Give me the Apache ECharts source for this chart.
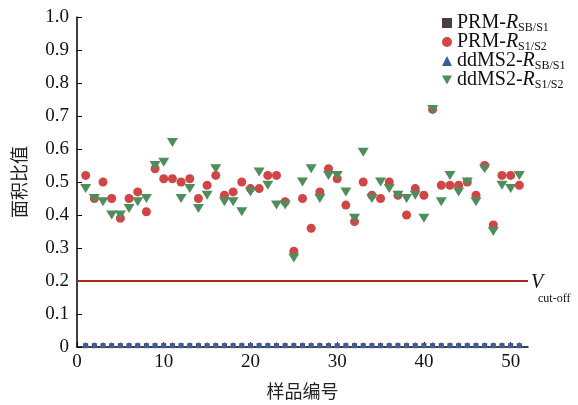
<!DOCTYPE html>
<html>
<head>
<meta charset="utf-8">
<script src="https://cdn.jsdelivr.net/npm/echarts@6/dist/echarts.min.js"></script>
<style>
html,body{margin:0;padding:0;background:#fff;}
#chart{width:578px;height:405px;}
</style>
</head>
<body>
<div id="chart"></div>
<script>
// 样品编号 1..51
let samples = [];
for (let i = 1; i <= 51; i++) samples.push(i);

// PRM-R S1/S2
let prmS1S2 = [0.52,0.45,0.50,0.45,0.39,0.45,0.47,0.41,0.54,0.51,
               0.51,0.50,0.51,0.45,0.49,0.52,0.46,0.47,0.50,0.48,
               0.48,0.52,0.52,0.44,0.29,0.45,0.36,0.47,0.54,0.51,
               0.43,0.38,0.50,0.46,0.45,0.50,0.46,0.40,0.48,0.46,
               0.72,0.49,0.49,0.49,0.50,0.46,0.55,0.37,0.52,0.52,0.49];
// ddMS2-R S1/S2
let ddS1S2  = [0.48,0.45,0.44,0.40,0.40,0.42,0.44,0.45,0.55,0.56,
               0.62,0.45,0.48,0.42,0.46,0.54,0.44,0.44,0.41,0.47,
               0.53,0.49,0.43,0.43,0.27,0.50,0.54,0.45,0.52,0.52,
               0.47,0.39,0.59,0.45,0.50,0.48,0.46,0.45,0.46,0.39,
               0.72,0.44,0.52,0.47,0.50,0.44,0.54,0.35,0.49,0.48,0.52];
// SB/S1 比值接近 0
let prmSBS1 = samples.map(function(){ return 0.004; });
let ddSBS1  = samples.map(function(){ return 0.006; });

let xTicks = [0,10,20,30,40,50];
let cutOff = 0.2;

function pairs(arr){ return arr.map(function(v,i){ return [samples[i], v]; }); }

let font = 'Liberation Serif, Times New Roman, serif';
let rich = {
    n:{fontFamily:font,fontSize:20,color:'#111'},
    i:{fontFamily:font,fontSize:20,fontStyle:'italic',color:'#111'},
    s:{fontFamily:font,fontSize:12,color:'#111',padding:[10,0,0,0]}
};
let downTri = 'path://M0,0 L10,0 L5,9 Z';

let chart = echarts.init(document.getElementById('chart'));
let option = {
    animation:false,
    backgroundColor:'#fff',
    grid:{left:77,right:50,top:17,bottom:55},
    legend:{
        left:437, top:8, orient:'vertical',
        itemWidth:10, itemHeight:10, itemGap:-2,
        textStyle:{rich:rich},
        formatter:function(name){
            let p = name.split('|');
            return '{n|'+p[0]+'}{i|R}{s|'+p[1]+'}';
        },
        data:[{name:'PRM-|SB/S1',icon:'rect'},
              {name:'PRM-|S1/S2',icon:'circle'},
              {name:'ddMS2-|SB/S1',icon:'triangle'},
              {name:'ddMS2-|S1/S2',icon:downTri}]
    },
    xAxis:{
        type:'value', min:0, max:52,
        name:'样品编号', nameLocation:'middle', nameGap:35,
        nameTextStyle:{fontFamily:'Noto Sans CJK SC',fontSize:18,color:'#222'},
        splitLine:{show:false},
        axisLine:{lineStyle:{color:'#000',width:1.5}},
        axisTick:{inside:true,length:5,customValues:xTicks,lineStyle:{color:'#000'}},
        axisLabel:{customValues:xTicks,fontFamily:font,fontSize:19,color:'#111',margin:6}
    },
    yAxis:{
        type:'value', min:0, max:1, interval:0.1,
        name:'面积比值', nameLocation:'middle', nameGap:49,
        nameTextStyle:{fontFamily:'Noto Sans CJK SC',fontSize:18,color:'#222'},
        splitLine:{show:false},
        axisLine:{show:true,lineStyle:{color:'#000',width:1.5}},
        axisTick:{inside:true,length:5,lineStyle:{color:'#000'}},
        axisLabel:{fontFamily:font,fontSize:19,color:'#111',margin:8,
            formatter:function(v){ return v===0 ? '0' : v.toFixed(1); }}
    },
    series:[
        {
            name:'PRM-|SB/S1', type:'scatter', symbol:'rect', symbolSize:5,
            itemStyle:{color:'#4a4040',opacity:1}, data:pairs(prmSBS1),
            markLine:{
                silent:true, symbol:'none',
                lineStyle:{color:'#a52a1e',width:2,type:'solid'},
                label:{position:'end',distance:3,offset:[0,8],
                    formatter:'{v|V}\n{c|cut-off}',
                    rich:{v:{fontFamily:font,fontSize:20,fontStyle:'italic',color:'#111',align:'left'},
                          c:{fontFamily:font,fontSize:12,color:'#111',align:'left',padding:[0,0,0,7]}}},
                data:[{yAxis:cutOff}]
            }
        },
        {
            name:'PRM-|S1/S2', type:'scatter', symbol:'circle', symbolSize:9,
            itemStyle:{color:'#d04545',opacity:1}, data:pairs(prmS1S2)
        },
        {
            name:'ddMS2-|SB/S1', type:'scatter', symbol:'triangle', symbolSize:[7,6],
            itemStyle:{color:'#3f5c9e',opacity:1}, data:pairs(ddSBS1)
        },
        {
            name:'ddMS2-|S1/S2', type:'scatter', symbol:'triangle', symbolRotate:180, symbolSize:[11,9],
            itemStyle:{color:'#4f8d5d',opacity:1}, data:pairs(ddS1S2)
        }
    ]
};
chart.setOption(option);
</script>
</body>
</html>
